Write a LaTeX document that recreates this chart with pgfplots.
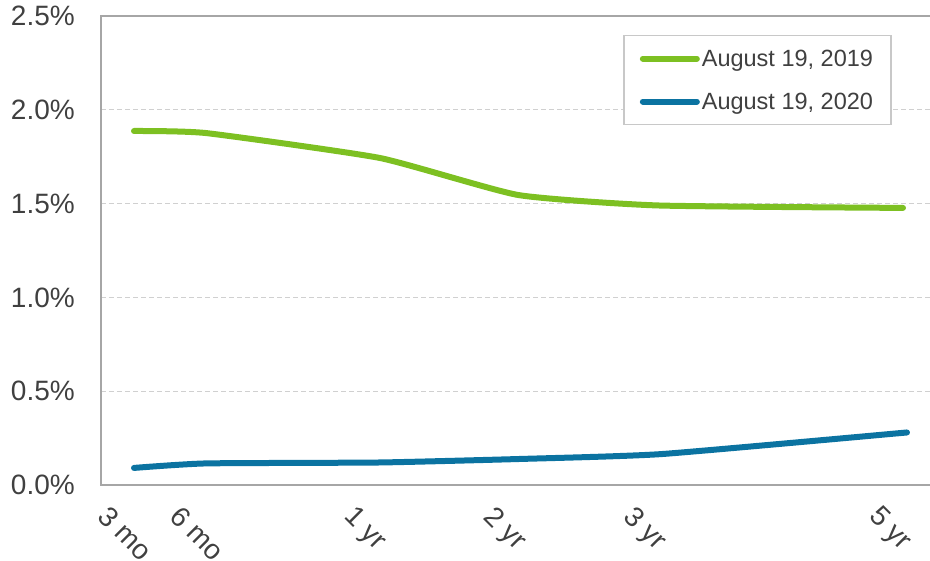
\documentclass[border=0pt]{standalone}
\usepackage{pgfplots}
\pgfplotsset{compat=1.18}
\usepackage{fontspec}
\setmainfont{Liberation Sans}
\definecolor{cgreen}{HTML}{7DC022}
\definecolor{cblue}{HTML}{0B73A1}
\definecolor{ctext}{HTML}{404040}
\definecolor{caxis}{HTML}{A6A6A6}
\definecolor{cgrid}{HTML}{D0D0D0}
\definecolor{clegend}{HTML}{C8C8C8}
\begin{document}
\begin{tikzpicture}[x=1pt,y=1pt]
\begin{axis}[
  at={(101pt,76pt)}, anchor=south west,
  scale only axis, width=834pt, height=469pt,
  xmin=101, xmax=935, ymin=0, ymax=2.5,
  axis line style={caxis, line width=2pt},
  major tick length=0pt,
  ytick={0,0.5,1,1.5,2,2.5},
  yticklabels={0.0\%,0.5\%,1.0\%,1.5\%,2.0\%,2.5\%},
  xtick={134,206,380,520,660,905},
  xticklabels={3 mo,6 mo,1 yr,2 yr,3 yr,5 yr},
  /pgf/number format/assume math mode=true,
  ticklabel style={font=\fontsize{28}{30}\selectfont, text=ctext},
  yticklabel style={anchor=east, inner sep=0pt, xshift=-26pt},
  xticklabel style={rotate=-45, anchor=north west, inner sep=0pt, xshift=-3pt, yshift=-30pt},
  ymajorgrids,
  major grid style={cgrid, line width=1pt, dash pattern=on 5pt off 3pt},
  legend style={at={(0.626,0.9595)}, anchor=north west, draw=clegend, line width=1.5pt,
    font=\fontsize{23.5}{25}\selectfont, text=ctext, inner xsep=16pt, inner ysep=12pt,
    row sep=21pt, nodes={inner sep=2pt}},
  legend cell align=left,
  legend image code/.code={\draw[#1, line width=6pt, line cap=round] (0pt,0pt) -- (54pt,0pt);},
]
\addplot[cgreen, line width=6pt, line cap=round, smooth, tension=0.3] coordinates {
  (134,1.887) (206,1.876) (380,1.743) (518,1.546) (658,1.490) (903,1.477)};
\addlegendentry{August 19, 2019}
\addplot[cblue, line width=6pt, line cap=round, smooth, tension=0.3] coordinates {
  (134,0.091) (206,0.115) (380,0.120) (522,0.139) (662,0.165) (907,0.280)};
\addlegendentry{August 19, 2020}
\end{axis}
\pgfresetboundingbox
\useasboundingbox (0pt,0pt) rectangle (930pt,561pt);
\end{tikzpicture}
\end{document}
